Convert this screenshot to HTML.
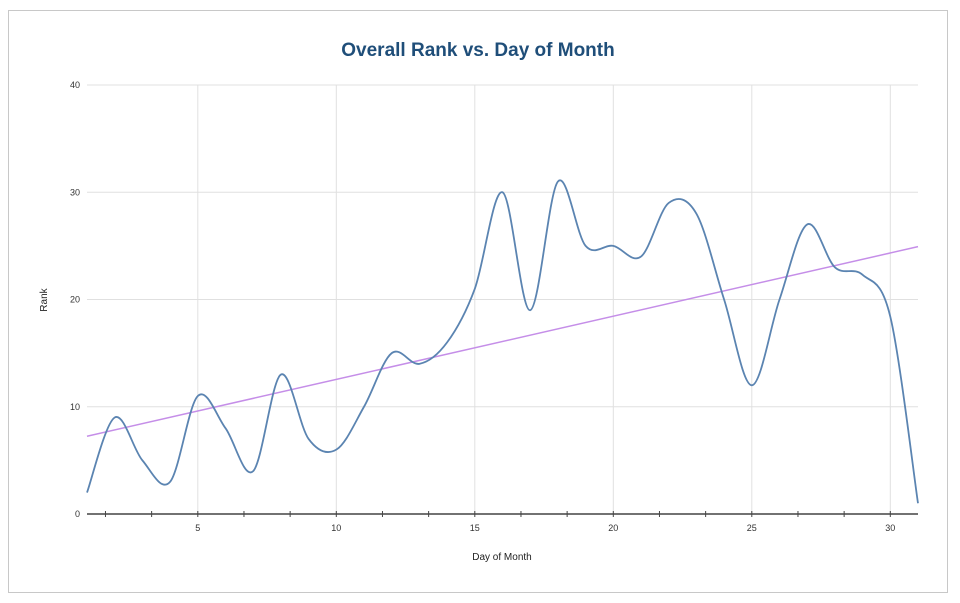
<!DOCTYPE html>
<html><head><meta charset="utf-8"><style>
body{margin:0;background:#fff;font-family:"Liberation Sans",sans-serif}
svg{display:block}
</style></head><body>
<svg width="960" height="603" id="c">
<rect x="8.5" y="10.5" width="939" height="582" fill="#fff" stroke="#c8c8c8"/>
<text x="478" y="56" text-anchor="middle" font-size="19" font-weight="bold" fill="#1f4e79">Overall Rank vs. Day of Month</text>
<text x="502" y="560" text-anchor="middle" font-size="10" fill="#222">Day of Month</text>
<text x="47" y="300" text-anchor="middle" font-size="10" fill="#222" transform="rotate(-90 47 300)">Rank</text>
<g id="grid"></g><g id="axes"></g><g id="series"></g>
</svg>
<script>
const days=[1,2,3,4,5,6,7,8,9,10,11,12,13,14,15,16,17,18,19,20,21,22,23,24,25,26,27,28,29,30,31];
const ranks=[2,9,5,3,11,8,4,13,7,6,10,15,14,16,21,30,19,31,25,25,24,29,28,20,12,20,27,23,22.3,18.4,1];
const xTicks=[5,10,15,20,25,30];
const yTicks=[0,10,20,30,40];
const NS="http://www.w3.org/2000/svg";
const X0=87,X1=918,Y0=514,Y1=85;
const xs=d=>X0+(d-1)/30*(X1-X0);
const ys=v=>Y0-v/40*(Y0-Y1);
function mk(tag,attrs,parent){const e=document.createElementNS(NS,tag);for(const k in attrs)e.setAttribute(k,attrs[k]);document.getElementById(parent).appendChild(e);return e;}
yTicks.forEach(t=>{
  if(t>0){const l=mk('line',{x1:X0,x2:X1,y1:ys(t),y2:ys(t),stroke:'#e0e0e0'},'grid');
  
  }
  const tx=mk('text',{x:80,y:ys(t)+3,'text-anchor':'end','font-size':9,fill:'#333'},'axes');tx.textContent=t;
  
  
});
xTicks.forEach(t=>{
  const l=mk('line',{x1:xs(t),x2:xs(t),y1:Y1,y2:Y0,stroke:'#e0e0e0'},'grid');
  
  
  const tx=mk('text',{x:xs(t),y:Y0+17,'text-anchor':'middle','font-size':9,fill:'#333'},'axes');tx.textContent=t;
  
  
});
for(let d=5/3;d<31;d+=5/3){const tk=mk('line',{x1:xs(d),x2:xs(d),y1:Y0-3,y2:Y0+3,stroke:'#444'},'axes');
  
  }
const ax=mk('line',{x1:X0,x2:X1,y1:Y0,y2:Y0,stroke:'#444','stroke-width':1.5},'axes');


// trend
const n=days.length;let sx=0,sy=0,sxy=0,sxx=0;
for(let i=0;i<n;i++){sx+=days[i];sy+=ranks[i];sxy+=days[i]*ranks[i];sxx+=days[i]*days[i];}
const m=(n*sxy-sx*sy)/(n*sxx-sx*sx),b=(sy-m*sx)/n;
const tr=mk('line',{x1:xs(1),y1:ys(b+m),x2:xs(31),y2:ys(b+m*31),stroke:'#c58ee8','stroke-width':1.5},'series');


// smooth curve
const P=days.map((d,i)=>[xs(d),ys(ranks[i])]);
let dstr=`M${P[0][0]},${P[0][1]}`;
for(let i=0;i<n-1;i++){const p0=P[Math.max(0,i-1)],p1=P[i],p2=P[i+1],p3=P[Math.min(n-1,i+2)];
 const c1=[p1[0]+(p2[0]-p0[0])/6,p1[1]+(p2[1]-p0[1])/6],c2=[p2[0]-(p3[0]-p1[0])/6,p2[1]-(p3[1]-p1[1])/6];
 dstr+=`C${c1[0]},${c1[1]} ${c2[0]},${c2[1]} ${p2[0]},${p2[1]}`;}
const ln=mk('path',{d:dstr,fill:'none',stroke:'#5b84b1','stroke-width':1.8},'series');


</script>
</body></html>
